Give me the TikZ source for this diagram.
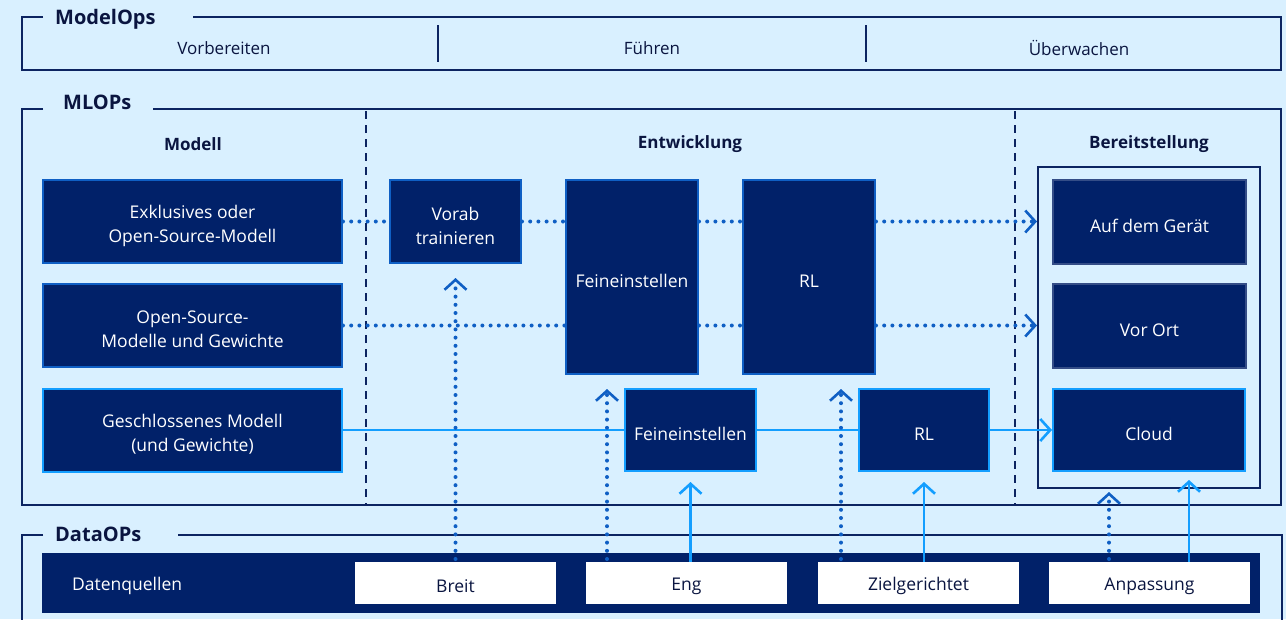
\documentclass[tikz,border=0pt]{standalone}
\usepackage{fontspec}
\setmainfont{Open Sans}
\usetikzlibrary{arrows.meta}
\definecolor{bg}{HTML}{D9F0FF}
\definecolor{navy}{HTML}{012169}
\definecolor{frame}{HTML}{0C2461}
\definecolor{midblue}{HTML}{0F5FC4}
\definecolor{bright}{HTML}{139EFF}
\definecolor{titletext}{HTML}{0A1540}
\tikzset{
  frameline/.style={draw=frame, line width=2.5pt},
  titletxt/.style={anchor=west, inner sep=0pt, text=titletext, font=\fontsize{20}{24}\selectfont\bfseries},
  headtxt/.style={inner sep=0pt, text=titletext, font=\fontsize{17}{20}\selectfont\bfseries},
  optxt/.style={inner sep=0pt, text=titletext, font=\fontsize{17}{20}\selectfont},
  darkbox/.style={fill=navy, draw=midblue, line width=2pt, inner sep=0pt},
  brightbox/.style={darkbox, draw=bright},
  plainbox/.style={darkbox, draw=navy!80!white},
  boxtext/.style={text=white, align=center, inner sep=0pt, yshift=-4pt,
    font=\fontsize{17.5}{24}\selectfont},
  whitebox/.style={fill=white, draw=none, inner sep=0pt, minimum width=201pt, minimum height=42pt},
  whitetext/.style={text=titletext, inner sep=0pt, yshift=-3pt, font=\fontsize{17.5}{20}\selectfont},
  chev/.style={-{Straight Barb[length=10pt,width=22pt,line width=2.6pt]}},
  dotline/.style={draw=midblue, line width=4pt, line cap=round, dash pattern=on 0pt off 8.2pt},
  dotarrow/.style={dotline, chev},
  solidarrow/.style={draw=bright, line width=2.5pt, chev},
  solidline/.style={draw=bright, line width=2.5pt},
  dashsep/.style={draw=frame, line width=2pt, dash pattern=on 8pt off 6pt},
}
\begin{document}
\begin{tikzpicture}[x=1pt,y=-1pt]
\fill[bg] (0,0) rectangle (1286,619);
\useasboundingbox (0,0) rectangle (1286,619);

% ModelOps frame
\draw[frameline] (43,17) -- (22,17) -- (22,70) -- (1281,70) -- (1281,17) -- (193,17);
\node[titletxt] (tModelOps) at (55,19) {ModelOps};
\draw[draw=frame, line width=1.5pt] (438,25) -- (438,62);
\draw[draw=frame, line width=1.5pt] (866,25) -- (866,62);
\node[optxt] (vorb) at (224,48) {Vorbereiten};
\node[optxt] (fuehr) at (652,48) {Führen};
\node[optxt] (ueber) at (1079,48) {Überwachen};

% MLOPs frame
\draw[frameline] (43,109) -- (22,109) -- (22,505) -- (1281,505) -- (1281,109) -- (153,109);
\node[titletxt] (tMLOPs) at (63,102.5) {MLOPs};
\draw[dashsep] (366,111) -- (366,504);
\draw[dashsep] (1015,111) -- (1015,504);
\node[headtxt] (hModell) at (193,144) {Modell};
\node[headtxt] (hEntw) at (690,144) {Entwicklung};
\node[headtxt] (hBereit) at (1149,144) {Bereitstellung};

% Model boxes
\node[darkbox, minimum width=299pt, minimum height=83pt,
  label={[boxtext]center:{Exklusives oder\\Open-Source-Modell}}] (m1) at (192.5,221.5) {};
\node[darkbox, minimum width=299pt, minimum height=83pt,
  label={[boxtext]center:{Open-Source-\\Modelle und Gewichte}}] (m2) at (192.5,325.5) {};
\node[brightbox, minimum width=299pt, minimum height=83pt,
  label={[boxtext]center:{Geschlossenes Modell\\(und Gewichte)}}] (m3) at (192.5,430) {};

% Development boxes
\node[darkbox, minimum width=131pt, minimum height=83pt,
  label={[boxtext]center:{Vorab\\trainieren}}] (vorab) at (455.5,221.5) {};
\node[darkbox, minimum width=132pt, minimum height=194pt,
  label={[boxtext]center:Feineinstellen}] (feineT) at (632,277) {};
\node[darkbox, minimum width=132pt, minimum height=194pt,
  label={[boxtext]center:RL}] (rlT) at (809,277) {};
\node[brightbox, minimum width=131pt, minimum height=82pt,
  label={[boxtext]center:Feineinstellen}] (feineS) at (690.5,430) {};
\node[brightbox, minimum width=130pt, minimum height=82pt,
  label={[boxtext]center:RL}] (rlS) at (924,430) {};

% Deployment
\draw[draw=frame, line width=2pt] (1038,167) rectangle (1260,488);
\coordinate (bereitBottom) at (1109,488);
\node[plainbox, minimum width=193pt, minimum height=84pt,
  label={[boxtext]center:Auf dem Gerät}] (auf) at (1149.5,222) {};
\node[plainbox, minimum width=193pt, minimum height=84pt,
  label={[boxtext]center:Vor Ort}] (vorort) at (1149.5,326) {};
\node[brightbox, minimum width=192pt, minimum height=82pt,
  label={[boxtext]center:Cloud}] (cloud) at (1149,430) {};

% DataOPs frame
\draw[frameline] (43,535) -- (22,535) -- (22,625);
\draw[frameline] (178,535) -- (1282,535) -- (1282,625);
\node[titletxt] (tDataOPs) at (55,534) {DataOPs};
\node[fill=navy, minimum width=1218pt, minimum height=60pt, inner sep=0pt] (bar) at (651,583) {};
\node[anchor=west, inner sep=0pt, text=white, font=\fontsize{17.5}{20}\selectfont] (dq) at (72,586) {Datenquellen};
\node[whitebox, label={[whitetext]center:Breit}] (breit) at (455.5,583) {};
\node[whitebox, label={[whitetext]center:Eng}] (eng) at (686.5,583) {};
\node[whitebox, label={[whitetext]center:Zielgerichtet}] (ziel) at (918.5,583) {};
\node[whitebox, label={[whitetext]center:Anpassung}] (anp) at (1149.5,583) {};

% horizontal dotted connectors
\draw[dotline] (m1.east) -- (vorab.west);
\draw[dotline] (vorab.east) -- (vorab.east -| feineT.west);
\draw[dotline] (feineT.east |- vorab.east) -- (rlT.west |- vorab.east);
\draw[dotarrow] (rlT.east |- vorab.east) -- (1037,221.5);
\draw[dotline] (m2.east) -- (m2.east -| feineT.west);
\draw[dotline] (feineT.east |- m2.east) -- (rlT.west |- m2.east);
\draw[dotarrow] (rlT.east |- m2.east) -- (1037,325.5);

% horizontal solid connectors
\draw[solidline] (m3.east) -- (feineS.west);
\draw[solidline] (feineS.east) -- (rlS.west);
\draw[solidarrow] (rlS.east) -- (cloud.west);

% vertical dotted arrows
\draw[dotarrow] (455.5,559) -- ([yshift=-14pt]vorab.south);
\draw[dotarrow] (607,559) -- ([yshift=-14pt]feineT.south -| 607,0);
\draw[dotarrow] (841,559) -- ([yshift=-14pt]rlT.south -| 841,0);
\draw[dotarrow] (1109,559) -- ([yshift=-4pt]bereitBottom);

% vertical solid arrows
\draw[solidarrow] (eng.north -| feineS.south) -- ([yshift=-10pt]feineS.south);
\draw[solidarrow] (ziel.north -| rlS.south) -- ([yshift=-10pt]rlS.south);
\draw[solidarrow] (anp.north -| 1189,0) -- ([yshift=-8pt]cloud.south -| 1189,0);
\end{tikzpicture}
\end{document}
